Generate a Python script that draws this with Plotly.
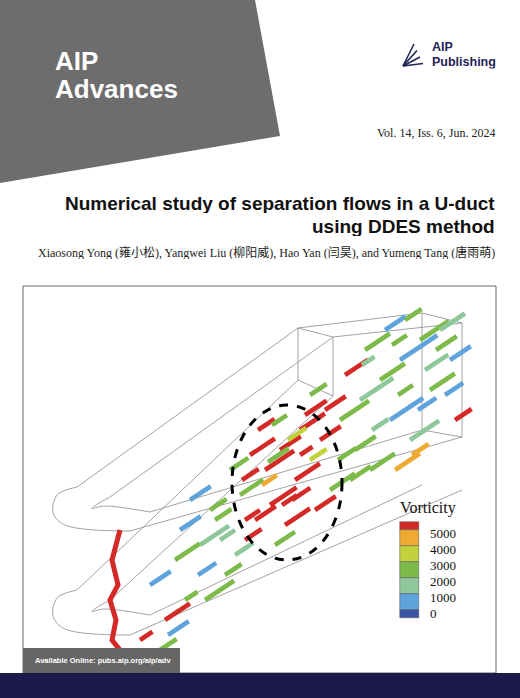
import plotly.graph_objects as go

# Legend data (vorticity bins)
levels = [5000, 4000, 3000, 2000, 1000, 0]
bin_colors = ['#d42a27', '#eeaa33', '#c2d23c', '#7cbb4a', '#8ec89a', '#5fa3dd', '#3b55a5']
bin_tops = [522, 530, 546, 562, 578, 594, 610]
bin_heights = [8, 16, 16, 16, 16, 16, 8]
label_y = [533, 549, 565, 581, 597, 613]

# Vortex streaks: start x, start y, length, colour index into bin_colors
streak_x = [250, 265, 280, 295, 240, 270, 300, 310, 255, 285, 230, 320, 262, 292, 305, 245, 275,
            340, 360, 380, 400, 420, 440, 355, 390, 430, 410, 370, 345, 450, 395,
            150, 175, 200, 215, 190, 165, 225, 140, 205, 180, 235, 160, 330, 315,
            258, 272, 288, 300, 242, 268, 282, 310, 325, 338, 365, 385, 405, 425, 445,
            350, 372, 398, 418, 436, 455, 362, 392, 412, 220, 198, 185, 168, 210, 245]
streak_y = [455, 470, 450, 480, 495, 505, 430, 460, 520, 525, 470, 440, 485, 500, 415, 540, 545,
            420, 400, 380, 360, 340, 330, 450, 420, 390, 440, 470, 375, 360, 470,
            585, 560, 545, 520, 500, 620, 575, 640, 600, 530, 555, 650, 490, 510,
            430, 425, 440, 455, 480, 462, 505, 395, 410, 460, 350, 330, 320, 370, 395,
            480, 430, 395, 410, 350, 420, 365, 345, 455, 540, 575, 600, 635, 510, 520]
streak_len = [30, 35, 25, 30, 28, 32, 30, 20, 25, 30, 22, 25, 18, 22, 26, 20, 24,
              35, 40, 30, 45, 35, 30, 25, 40, 30, 35, 30, 28, 25, 30,
              25, 30, 35, 20, 25, 30, 20, 15, 35, 25, 22, 20, 30, 25,
              20, 18, 22, 15, 20, 25, 18, 20, 25, 22, 30, 25, 20, 28, 22,
              25, 20, 18, 22, 25, 20, 15, 18, 20, 18, 22, 15, 25, 20, 18]
streak_c = [0, 0, 0, 0, 3, 0, 0, 2, 0, 0, 3, 0, 1, 0, 0, 0, 3,
            3, 4, 3, 5, 3, 4, 3, 5, 3, 4, 3, 0, 5, 1,
            5, 3, 4, 3, 5, 0, 3, 0, 3, 5, 4, 3, 3, 0,
            0, 3, 2, 0, 0, 3, 0, 3, 0, 3, 3, 5, 3, 4, 5,
            3, 4, 3, 5, 3, 0, 4, 3, 1, 4, 5, 3, 5, 3, 0]

# Duct outline polylines (pixel space)
duct_lines = [
    [(298, 328), (77, 487)],
    [(333, 337), (110, 497)],
    [(298, 328), (333, 337), (333, 396), (298, 380), (298, 328)],
    [(422, 313), (462, 323), (462, 437), (422, 430), (422, 313)],
    [(298, 328), (422, 313)], [(333, 337), (462, 323)],
    [(130, 531), (462, 437)],
    [(150, 512), (422, 430)],
    [(130, 635), (462, 490)],
    [(150, 615), (422, 485)],
    [(77, 590), (298, 380)],
    [(110, 600), (333, 396)],
]
arcs = [(77, 487, 130, 531), (110, 497, 150, 512), (77, 590, 130, 635), (110, 600, 150, 615)]

fig = go.Figure()

# outlines
for pts in duct_lines:
    fig.add_trace(go.Scatter(x=[p[0] for p in pts], y=[p[1] for p in pts], mode='lines',
                             line=dict(color='#8a8a8a', width=0.8), hoverinfo='skip', showlegend=False))
for x0, y0, x1, y1 in arcs:
    xm = min(x0, x1) - (x1 - x0) * 0.45
    ym = (y0 + y1) / 2 + 4
    fig.add_trace(go.Scatter(x=[x0, xm + 4, xm, xm + 12, x1], y=[y0, y0 + 8, ym, y1 - 6, y1],
                             mode='lines', line=dict(color='#8a8a8a', width=0.8, shape='spline'),
                             hoverinfo='skip', showlegend=False))

# red inlet sheet
fig.add_trace(go.Scatter(x=[120, 112, 118, 110, 116, 112, 120], y=[530, 560, 585, 600, 620, 640, 650],
                         mode='lines', line=dict(color='#d42a27', width=5), hoverinfo='skip', showlegend=False))

# vortex streaks
for x, y, l, c in zip(streak_x, streak_y, streak_len, streak_c):
    fig.add_trace(go.Scatter(x=[x, x + l * 0.83], y=[y, y - l * 0.55], mode='lines',
                             line=dict(color=bin_colors[c], width=4.5), hoverinfo='skip', showlegend=False))

# legend swatches
fig.add_trace(go.Bar(x=[409.5] * 7, y=bin_heights, base=bin_tops, width=19, marker=dict(color=bin_colors,
                     line=dict(color='#555', width=0.5)), hoverinfo='skip', showlegend=False))
for v, yy in zip(levels, label_y):
    fig.add_annotation(x=428, y=yy, text=str(v), showarrow=False, xanchor='left',
                       font=dict(family='Liberation Serif', size=13, color='#111'))
fig.add_annotation(x=428, y=508, text='Vorticity', showarrow=False,
                   font=dict(family='Liberation Serif', size=16, color='#111'))

shapes = [
    dict(type='path', path='M0,0 L255,0 L280,136 L0,183 Z', fillcolor='#6d6d6d', line=dict(width=0), layer='below'),
    dict(type='rect', x0=23, y0=286, x1=496, y1=673, line=dict(color='#666', width=1), layer='below'),
    dict(type='circle', x0=232, y0=405, x1=342, y1=560, line=dict(color='black', width=3, dash='dash')),
    dict(type='rect', x0=0, y0=673, x1=520, y1=698, fillcolor='#1c1a4a', line=dict(width=0)),
    dict(type='rect', x0=23, y0=648, x1=180, y1=673, fillcolor='#666666', line=dict(width=0)),
]
# logo fan
for i in range(4):
    shapes.append(dict(type='line', x0=403, y0=66, x1=414 + i * 3, y1=44 + i * 6.5,
                       line=dict(color='#1f2357', width=1.6)))
fig.update_layout(shapes=shapes)

sans = 'Liberation Sans, Arial, sans-serif'
ann = [
    dict(x=53, y=60, text='<b>AIP</b>', size=26, color='white', xa='left', fam=sans),
    dict(x=53, y=88, text='<b>Advances</b>', size=26, color='white', xa='left', fam=sans),
    dict(x=430, y=47, text='<b>AIP</b>', size=12.5, color='#1f2357', xa='left', fam=sans),
    dict(x=430, y=62, text='<b>Publishing</b>', size=12.5, color='#1f2357', xa='left', fam=sans),
    dict(x=497, y=132, text='Vol. 14, Iss. 6, Jun. 2024', size=12, color='#222', xa='right', fam='Liberation Serif'),
    dict(x=497, y=203, text='<b>Numerical study of separation flows in a U-duct</b>', size=19, color='#111', xa='right', fam=sans),
    dict(x=497, y=226, text='<b>using DDES method</b>', size=19, color='#111', xa='right', fam=sans),
    dict(x=497, y=252, text='Xiaosong Yong (雍小松), Yangwei Liu (柳阳威), Hao Yan (闫昊), and Yumeng Tang (唐雨萌)',
         size=12, color='#222', xa='right', fam='Liberation Serif, Noto Sans CJK SC'),
    dict(x=33, y=660, text='<b>Available Online: pubs.aip.org/aip/adv</b>', size=7.5, color='white', xa='left', fam=sans),
]
for a in ann:
    fig.add_annotation(x=a['x'], y=a['y'], text=a['text'], showarrow=False, xanchor=a['xa'], height=a['size'] + 1,
                       font=dict(family=a['fam'], size=a['size'], color=a['color']))

fig.update_layout(
    width=520, height=698, margin=dict(l=0, r=0, t=0, b=0),
    paper_bgcolor='white', plot_bgcolor='white',
    xaxis=dict(range=[0, 520], visible=False, fixedrange=True),
    yaxis=dict(range=[698, 0], visible=False, fixedrange=True),
    bargap=0,
)
fig.write_html('out.html', config={'displayModeBar': False},
               post_script="document.body.style.margin='0';document.body.style.overflow='hidden';")
